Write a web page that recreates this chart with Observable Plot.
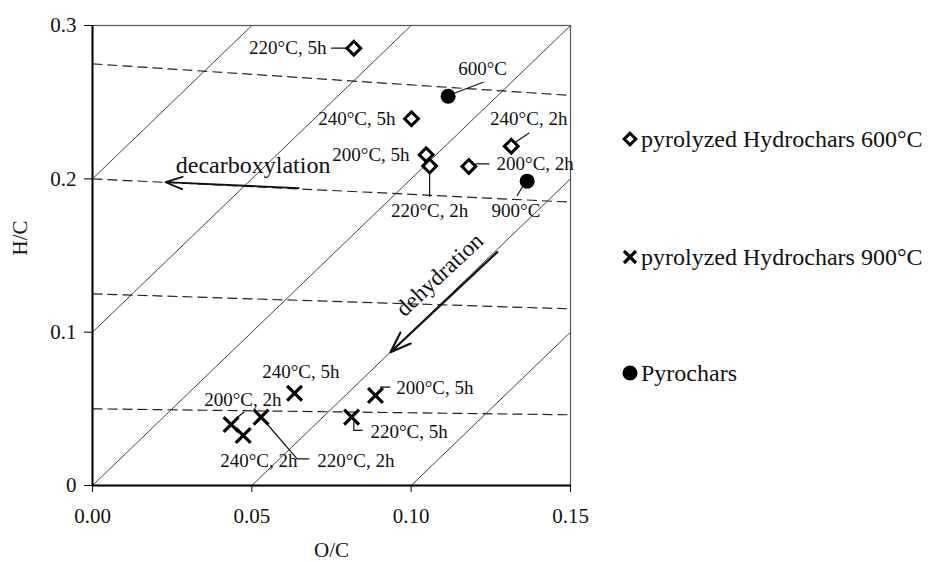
<!DOCTYPE html>
<html><head><meta charset="utf-8">
<script src="https://cdn.jsdelivr.net/npm/d3@7"></script>
<script src="https://cdn.jsdelivr.net/npm/@observablehq/plot@0.6"></script>
<style>
body{margin:0;background:#fff;font-family:"Liberation Serif",serif;}
#wrap{position:relative;width:928px;height:562px;}
.leg{position:absolute;left:622px;height:26px;display:flex;align-items:center;font-size:24px;color:#111;white-space:nowrap;}
.leg svg{margin-right:3px;}
</style></head><body><div id="wrap"></div>
<script>
// ---- data ----
const hydro600Labels = ["220°C, 5h","240°C, 5h","200°C, 5h","220°C, 2h","200°C, 2h","240°C, 2h"];
const hydro600OC = [0.0820,0.1001,0.1047,0.1058,0.1181,0.1314];
const hydro600HC = [0.2852,0.2392,0.2157,0.2083,0.2081,0.2213];

const hydro900Labels = ["200°C, 2h","240°C, 2h","220°C, 2h","240°C, 5h","220°C, 5h","200°C, 5h"];
const hydro900OC = [0.0435,0.0473,0.0529,0.0634,0.0813,0.0888];
const hydro900HC = [0.0398,0.0326,0.0446,0.0602,0.0446,0.0587];

const pyroLabels = ["600°C","900°C"];
const pyroOC = [0.1116,0.1364];
const pyroHC = [0.2539,0.1985];

// iso-lines: solid diagonals (slope 2) and dashed lines
const diagIntercepts = [0.2,0.1,0,-0.1,-0.2];
const diagSlope = 2;
const dashLeftHC = [0.275,0.2,0.125,0.05];
const dashRightHC = [0.2544,0.1848,0.1152,0.0461];

const xTicks = [0,0.05,0.10,0.15];
const yTicks = [0,0.1,0.2,0.3];

// annotation labels (data coordinates) and anchors
const annText = ["220°C, 5h","600°C","240°C, 5h","200°C, 5h","220°C, 2h","200°C, 2h","240°C, 2h","900°C",
                 "240°C, 5h","200°C, 2h","240°C, 2h","220°C, 2h","200°C, 5h","220°C, 5h"];
const annOC = [0.0734,0.1224,0.0951,0.0995,0.1058,0.1268,0.1369,0.1329,
               0.0654,0.0472,0.0522,0.0705,0.0953,0.0872];
const annHC = [0.2852,0.2718,0.2392,0.2157,0.1789,0.2098,0.2392,0.1789,
               0.0739,0.0561,0.0163,0.0163,0.0635,0.0348];
const annAnchor = ["end","middle","end","end","middle","start","middle","middle",
                   "middle","middle","middle","start","start","start"];

// leader lines: [id, O/C, H/C]
const leaderId = [1,1, 2,2, 5,5, 6,6, 7,7, 8,8, 10,10, 12,12,12, 13,13, 14,14,14];
const leaderOC = [0.0750,0.0797, 0.1226,0.1139, 0.1058,0.1058, 0.1202,0.1244, 0.1369,0.1327, 0.1350,0.1333,
                  0.0475,0.0458, 0.0533,0.0642,0.0679, 0.0904,0.0933, 0.0820,0.0820,0.0846];
const leaderHC = [0.2852,0.2852, 0.2630,0.2561, 0.1885,0.2048, 0.2098,0.2098, 0.2298,0.2239, 0.1950,0.1891,
                  0.0478,0.0450, 0.0437,0.0174,0.0174, 0.0641,0.0641, 0.0413,0.0359,0.0359];

// process arrows
const arrowNames = ["decarboxylation","dehydration"];
const arrowFromOC = [0.0647,0.1270];
const arrowFromHC = [0.1939,0.1522];
const arrowToOC = [0.0229,0.0935];
const arrowToHC = [0.1978,0.0869];
const arrowTextOC = [0.0504,0.1089];
const arrowTextHC = [0.2087,0.1375];
const arrowTextRotate = [0,-43];

const legendLabels = ["pyrolyzed Hydrochars 600°C","pyrolyzed Hydrochars 900°C","Pyrochars"];

// ---- build tables ----
const d600 = hydro600Labels.map((l,i)=>({label:l,x:hydro600OC[i],y:hydro600HC[i]}));
const d900 = hydro900Labels.map((l,i)=>({label:l,x:hydro900OC[i],y:hydro900HC[i]}));
const dPyro = pyroLabels.map((l,i)=>({label:l,x:pyroOC[i],y:pyroHC[i]}));
const diag = diagIntercepts.flatMap((c,i)=>[{id:i,x:0,y:c},{id:i,x:0.15,y:c+diagSlope*0.15}]);
const dashes = dashLeftHC.map((v,i)=>({x1:0,y1:v,x2:0.15,y2:dashRightHC[i]}));
const ann = annText.map((t,i)=>({t,x:annOC[i],y:annHC[i],a:annAnchor[i]}));
const leaders = leaderId.map((id,i)=>({id,x:leaderOC[i],y:leaderHC[i]}));
const arrows = arrowNames.map((n,i)=>({n,x1:arrowFromOC[i],y1:arrowFromHC[i],x2:arrowToOC[i],y2:arrowToHC[i],
  tx:arrowTextOC[i],ty:arrowTextHC[i],r:arrowTextRotate[i]}));

const F = "Liberation Serif";
const annMarks = ["start","middle","end"].map(a => Plot.text(ann.filter(d=>d.a===a), {
  x:"x", y:"y", text:"t", textAnchor:a, fontSize:19, fill:"#111"}));

const chart = Plot.plot({
  width: 928, height: 562,
  marginLeft: 92, marginRight: 358, marginTop: 25, marginBottom: 77,
  style: {fontFamily: F, fontSize: "21px", color:"#111", background:"#fff"},
  x: {domain:[0,0.15]},
  y: {domain:[0,0.3]},
  marks: [
    Plot.line(diag, {x:"x", y:"y", z:"id", stroke:"#111", strokeWidth:0.8, clip:true}),
    Plot.link(dashes, {x1:"x1", y1:"y1", x2:"x2", y2:"y2", stroke:"#222", strokeWidth:1.2, strokeDasharray:"10,5"}),
    Plot.frame({stroke:"#555", strokeWidth:1.2}),
    Plot.ruleX([0], {stroke:"#000", strokeWidth:2}),
    Plot.ruleY([0], {stroke:"#000", strokeWidth:2}),
    Plot.axisX({ticks: xTicks, tickFormat: d3.format(".2f"), tickSize:7, tickPadding:16, fontSize:21, label:null, stroke:"#000"}),
    Plot.axisY({ticks: yTicks, tickFormat: d => d===0 ? "0" : d3.format(".1f")(d), tickSize:8, tickPadding:8, fontSize:21, label:null, stroke:"#000"}),
    Plot.text(["O/C"], {frameAnchor:"bottom", dy:71, fontSize:21, fill:"#111"}),
    Plot.text(["H/C"], {frameAnchor:"left", dx:-72, rotate:-90, fontSize:21, fill:"#111"}),
    Plot.line(leaders, {x:"x", y:"y", z:"id", stroke:"#111", strokeWidth:1.2}),
    Plot.arrow(arrows.slice(0,1), {x1:"x1", y1:"y1", x2:"x2", y2:"y2", stroke:"#111", strokeWidth:1.8, headLength:15, headAngle:40}),
    Plot.arrow(arrows.slice(1), {x1:"x1", y1:"y1", x2:"x2", y2:"y2", stroke:"#111", strokeWidth:2.2, headLength:15, headAngle:40}),
    Plot.text(arrows.slice(0,1), {x:"tx", y:"ty", text:"n", fontSize:24, fill:"#111"}),
    Plot.text(arrows.slice(1), {x:"tx", y:"ty", text:"n", rotate:-43, fontSize:23, fill:"#111"}),
    ...annMarks,
    Plot.dot(d600, {x:"x", y:"y", symbol:"diamond2", r:6.2, stroke:"#000", strokeWidth:3, fill:"#fff"}),
    Plot.dot(d900, {x:"x", y:"y", symbol:"times", r:6.8, stroke:"#000", strokeWidth:3.2}),
    Plot.dot(dPyro, {x:"x", y:"y", r:7.5, fill:"#000", stroke:"none"})
  ]
});
const wrap = document.getElementById("wrap");
wrap.appendChild(chart);

// legend
const legendY = [139, 257, 373];
const legendIcons = [
  '<svg width="16" height="16" viewBox="-8 -8 16 16"><path d="M0,-5.8L5.8,0L0,5.8L-5.8,0Z" fill="#fff" stroke="#000" stroke-width="3"/></svg>',
  '<svg width="16" height="16" viewBox="-8 -8 16 16"><path d="M-6,-6L6,6M-6,6L6,-6" stroke="#000" stroke-width="3.2"/></svg>',
  '<svg width="16" height="16" viewBox="-8 -8 16 16"><circle r="7.5" fill="#000"/></svg>'
];
legendLabels.forEach((l,i)=>{
  const div = document.createElement("div");
  div.className = "leg";
  div.style.top = (legendY[i]-13) + "px";
  div.innerHTML = legendIcons[i] + "<span>" + l + "</span>";
  wrap.appendChild(div);
});
</script></body></html>
